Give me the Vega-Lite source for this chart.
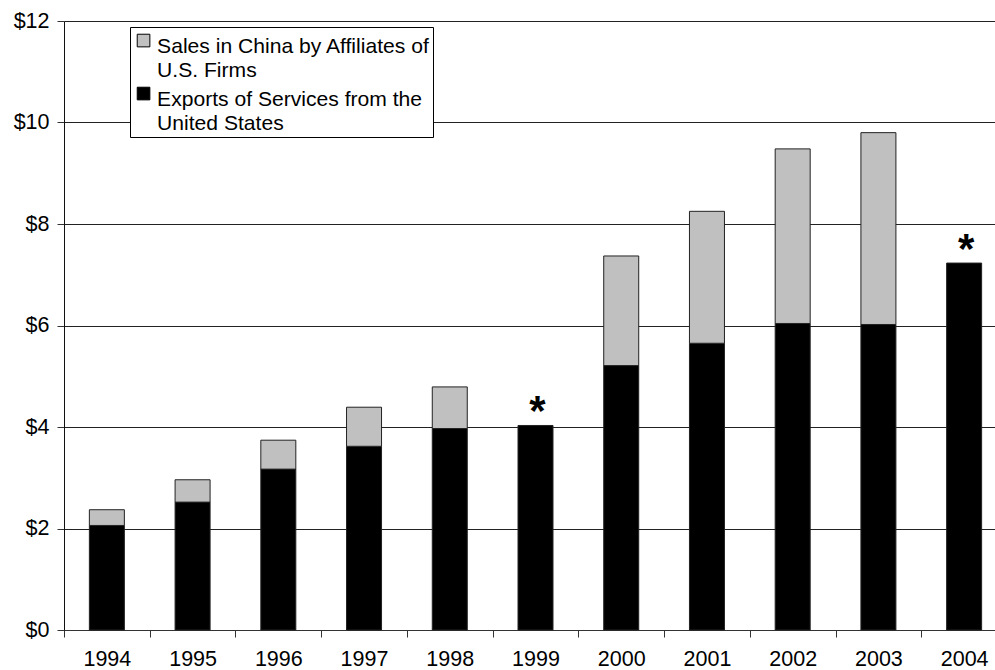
{
  "$schema": "https://vega.github.io/schema/vega-lite/v6.json",
  "autosize": {"type": "none"},
  "width": 931,
  "height": 609,
  "padding": {"left": 64, "top": 21, "right": 0, "bottom": 40},
  "background": "white",
  "config": {
    "font": "Liberation Sans",
    "view": {"stroke": null},
    "axis": {"labelFont": "Liberation Sans", "labelColor": "black", "labelFontSize": 21.5}
  },
  "datasets": {
    "bars": [
      {"year": "1994", "series": "Exports of Services from the United States", "value": 2.06},
      {"year": "1994", "series": "Sales in China by Affiliates of U.S. Firms", "value": 0.31},
      {"year": "1995", "series": "Exports of Services from the United States", "value": 2.52},
      {"year": "1995", "series": "Sales in China by Affiliates of U.S. Firms", "value": 0.44},
      {"year": "1996", "series": "Exports of Services from the United States", "value": 3.17},
      {"year": "1996", "series": "Sales in China by Affiliates of U.S. Firms", "value": 0.57},
      {"year": "1997", "series": "Exports of Services from the United States", "value": 3.62},
      {"year": "1997", "series": "Sales in China by Affiliates of U.S. Firms", "value": 0.77},
      {"year": "1998", "series": "Exports of Services from the United States", "value": 3.97},
      {"year": "1998", "series": "Sales in China by Affiliates of U.S. Firms", "value": 0.82},
      {"year": "1999", "series": "Exports of Services from the United States", "value": 4.03},
      {"year": "2000", "series": "Exports of Services from the United States", "value": 5.21},
      {"year": "2000", "series": "Sales in China by Affiliates of U.S. Firms", "value": 2.16},
      {"year": "2001", "series": "Exports of Services from the United States", "value": 5.65},
      {"year": "2001", "series": "Sales in China by Affiliates of U.S. Firms", "value": 2.60},
      {"year": "2002", "series": "Exports of Services from the United States", "value": 6.04},
      {"year": "2002", "series": "Sales in China by Affiliates of U.S. Firms", "value": 3.44},
      {"year": "2003", "series": "Exports of Services from the United States", "value": 6.02},
      {"year": "2003", "series": "Sales in China by Affiliates of U.S. Firms", "value": 3.78},
      {"year": "2004", "series": "Exports of Services from the United States", "value": 7.23}
    ],
    "notes": [
      {"year": "1999", "value": 4.03, "note": "*"},
      {"year": "2004", "value": 7.23, "note": "*"}
    ]
  },
  "layer": [
    {
      "data": {"name": "bars"},
      "mark": {"type": "bar", "size": 35, "stroke": "#222", "strokeWidth": 1},
      "encoding": {
        "x": {
          "field": "year", "type": "ordinal",
          "scale": {"type": "band", "range": [0, 943], "paddingInner": 0, "paddingOuter": 0},
          "axis": {
            "title": null, "labelAngle": 0, "tickBand": "extent", "tickSize": 7,
            "tickColor": "#333", "domainColor": "#333", "labelPadding": 11, "grid": false
          }
        },
        "y": {
          "field": "value", "type": "quantitative", "stack": "zero",
          "scale": {"domain": [0, 12], "nice": false},
          "axis": {
            "title": null, "values": [0, 2, 4, 6, 8, 10, 12],
            "labelExpr": "'$' + datum.value",
            "tickSize": 7, "tickColor": "#333", "domainColor": "#111",
            "labelPadding": 8, "grid": true, "gridColor": "#222", "gridWidth": 1
          }
        },
        "color": {
          "field": "series", "type": "nominal",
          "scale": {
            "domain": ["Sales in China by Affiliates of U.S. Firms", "Exports of Services from the United States"],
            "range": ["#C0C0C0", "#000000"]
          },
          "legend": {
            "title": null, "orient": "none", "legendX": 66, "legendY": 6,
            "direction": "vertical",
            "fillColor": "white", "strokeColor": "#000", "padding": 3,
            "symbolType": "square", "symbolSize": 160, "symbolStrokeColor": "#000", "symbolStrokeWidth": 1,
            "labelFontSize": 21.1, "labelFont": "Liberation Sans", "labelColor": "black",
            "labelLimit": 0, "labelOffset": 3, "labelBaseline": "top", "rowPadding": 2,
            "labelExpr": "datum.label == 'Sales in China by Affiliates of U.S. Firms' ? ['Sales in China by Affiliates of', 'U.S. Firms'] : ['Exports of Services from the', 'United States']",
            "encode": {"labels": {"update": {"lineHeight": {"value": 24}, "dy": {"value": -5}}}}
          }
        },
        "order": {"field": "series", "sort": "ascending"}
      }
    },
    {
      "data": {"name": "notes"},
      "mark": {"type": "text", "fontSize": 42, "fontWeight": "bold", "baseline": "alphabetic", "align": "center", "dx": 2, "font": "Liberation Sans", "color": "black"},
      "encoding": {
        "x": {"field": "year", "type": "ordinal"},
        "y": {"field": "value", "type": "quantitative"},
        "text": {"field": "note"}
      }
    }
  ]
}
